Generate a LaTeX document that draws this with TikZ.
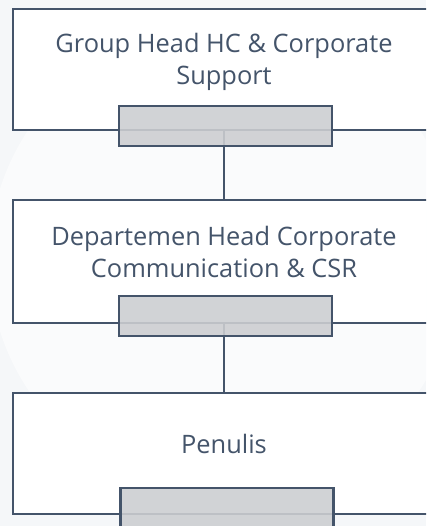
\documentclass[tikz,border=0pt]{standalone}
\usepackage{fontspec}
\setmainfont{Open Sans}
\definecolor{ink}{HTML}{44546A}
\definecolor{tagfill}{HTML}{CCCED1}
\definecolor{bg}{HTML}{F5F7F9}
\definecolor{halo}{HTML}{FAFBFC}
\begin{document}
\begin{tikzpicture}[x=1pt,y=-1pt,
  frame/.style={draw=ink,line width=2.3pt,fill=white,minimum width=422pt,inner sep=0pt},
  tag/.style={draw=ink,line width=2.3pt,fill=tagfill,fill opacity=0.89,draw opacity=1,minimum width=213pt,minimum height=40pt,inner sep=0pt},
  caption/.style={text=ink,font=\fontsize{25.4}{32}\selectfont,align=center,inner sep=0pt},
  link/.style={draw=ink,line width=2.3pt}]
\useasboundingbox (0,0) rectangle (426,526);
\clip (0,0) rectangle (426,526);
% soft backdrop
\fill[bg] (0,0) rectangle (426,526);
\fill[halo] (224,260) circle (235);

% role boxes
\node[frame,minimum height=121pt] (head) at (224,69.5) {};
\node[frame,minimum height=123pt] (dept) at (224,261.5) {};
\node[frame,minimum height=121pt] (writer) at (224,453.5) {};

% reporting lines
\draw[link] (head.south) -- (dept.north);
\draw[link] (dept.south) -- (writer.north);

% titles (base anchor sits on the last line)
\node[caption,anchor=base] (t1) at (224,85) {Group Head HC \& Corporate\\Support};
\node[caption,anchor=base] (t2) at (224,277) {Departemen Head Corporate\\Communication \& CSR};
\node[caption,anchor=base] (t3) at (224,453) {Penulis};

% name tags
\node[tag] (g1) at (225.5,126) {};
\node[tag] (g2) at (225.5,316) {};
\node[tag] (g3) at (227,508) {};
\end{tikzpicture}
\end{document}
